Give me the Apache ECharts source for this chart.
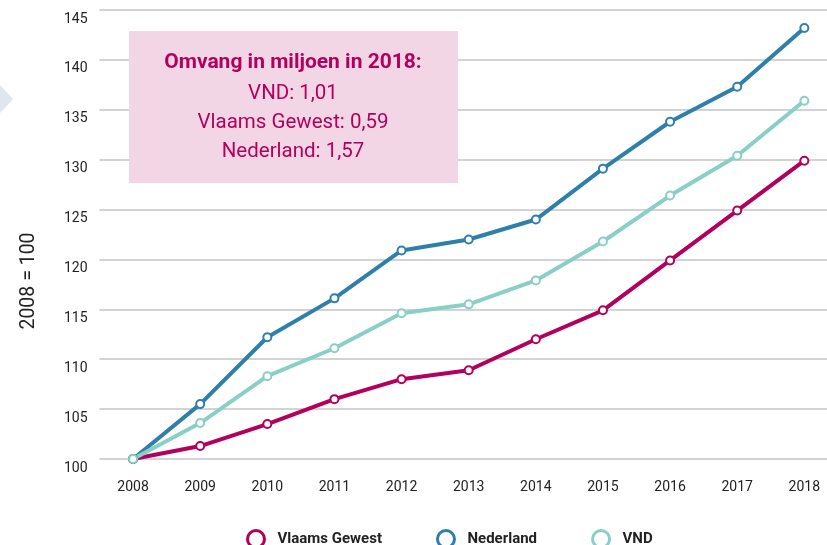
<!DOCTYPE html>
<html>
<head>
<meta charset="utf-8">
<script src="https://cdn.jsdelivr.net/npm/echarts@6/dist/echarts.min.js"></script>
<style>
  html, body { margin: 0; padding: 0; background: #fff; }
  #chart { width: 827px; height: 545px; }
</style>
</head>
<body>
<div id="chart"></div>
<script>
const jaren = [ '2008', '2009', '2010', '2011', '2012', '2013', '2014', '2015', '2016', '2017', '2018' ];
const vlaamsGewest = [ 100, 101.3, 103.5, 106.0, 108.0, 108.9, 112.0, 114.9, 119.9, 124.9, 129.9 ];
const nederland = [ 100, 105.5, 112.2, 116.1, 120.9, 122.0, 124.0, 129.1, 133.8, 137.3, 143.2 ];
const vnd = [ 100, 103.6, 108.3, 111.1, 114.6, 115.5, 117.9, 121.8, 126.4, 130.4, 135.9 ];
const omvangTekst = [ 'VND: 1,01', 'Vlaams Gewest: 0,59', 'Nederland: 1,57' ];

const kleuren = { vlaams: '#b3005c', ned: '#2f7fab', vnd: '#89cfc6' };
const font = 'Roboto, "DejaVu Sans", sans-serif';

const chart = echarts.init( document.getElementById( 'chart' ) );

// Een lijnreeks met witte cirkels als punten
function lijn ( naam, data, kleur ) {
  return {
    name: naam,
    type: 'line',
    data: data,
    symbol: 'circle',
    symbolSize: 8,
    lineStyle: { width: 4, color: kleur },
    itemStyle: { color: '#fff', borderColor: kleur, borderWidth: 2 },
    emphasis: { disabled: true },
    z: 3
  };
}

chart.setOption( {
  animation: false,
  textStyle: { fontFamily: font },
  grid: { left: 99.5, top: 10, width: 738.4, height: 449, outerBoundsMode: 'none' },
  xAxis: {
    type: 'category',
    data: jaren,
    boundaryGap: true,
    axisLine: { show: false },
    axisTick: { show: false },
    axisLabel: { color: '#222', fontSize: 14, margin: 21, fontFamily: font }
  },
  yAxis: {
    type: 'value',
    min: 100,
    max: 145,
    interval: 5,
    name: '2008 = 100',
    nameLocation: 'middle',
    nameRotate: 90,
    nameGap: 60,
    nameTextStyle: { color: '#222', fontSize: 19.5, fontFamily: font, padding: [ 0, 93, 0, 0 ] },
    axisLine: { show: false },
    axisTick: { show: false },
    axisLabel: { color: '#222', fontSize: 14, margin: 12, verticalAlign: 'top', padding: [ 2, 0, 0, 0 ], fontFamily: font },
    splitLine: { lineStyle: { color: '#c4c4c4', width: 1.5 } }
  },
  legend: {
    top: 529,
    left: 246,
    padding: 0,
    icon: 'circle',
    itemWidth: 17,
    itemHeight: 17,
    itemGap: 54,
    selectedMode: false,
    textStyle: { color: '#222', fontSize: 15, fontWeight: 'bold', fontFamily: font, padding: [ 0, 0, 0, 8 ] },
    data: [
      { name: 'Vlaams Gewest', itemStyle: { color: '#fff', borderColor: kleuren.vlaams, borderWidth: 3 } },
      { name: 'Nederland', itemStyle: { color: '#fff', borderColor: kleuren.ned, borderWidth: 3 } },
      { name: 'VND', itemStyle: { color: '#fff', borderColor: kleuren.vnd, borderWidth: 3 } }
    ]
  },
  graphic: [
    {
      type: 'polygon',
      shape: { points: [ [ 0, 85 ], [ 13, 99 ], [ 0, 113 ] ] },
      style: { fill: '#dfe6ef' }
    },
    {
      type: 'rect',
      shape: { x: 129, y: 31, width: 329, height: 152 },
      style: { fill: '#f2d6e6' },
      z: 10
    },
    {
      type: 'text',
      x: 293, y: 63,
      style: { text: 'Omvang in miljoen in 2018:', fill: kleuren.vlaams, font: 'bold 21px ' + font, align: 'center', verticalAlign: 'middle' },
      z: 11
    },
    ...omvangTekst.map( ( t, i ) => ( {
      type: 'text',
      x: 293, y: 94 + i * 29,
      style: { text: t, fill: kleuren.vlaams, font: '20.5px ' + font, align: 'center', verticalAlign: 'middle' },
      z: 11
    } ) )
  ],
  series: [
    lijn( 'Vlaams Gewest', vlaamsGewest, kleuren.vlaams ),
    lijn( 'Nederland', nederland, kleuren.ned ),
    lijn( 'VND', vnd, kleuren.vnd )
  ]
} );
</script>
</body>
</html>
